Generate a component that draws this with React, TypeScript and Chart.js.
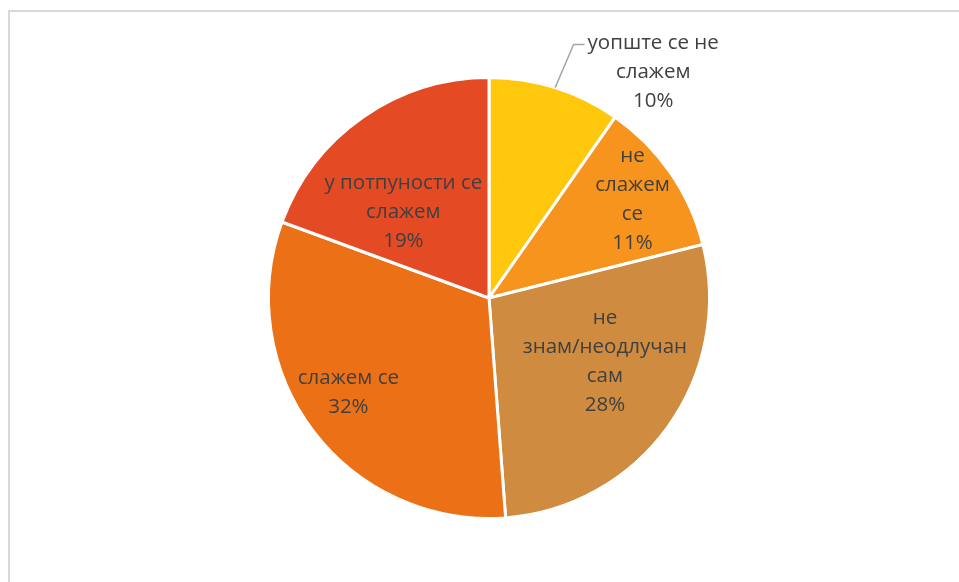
import React, { useEffect, useRef } from "react";
import { Chart, registerables } from "chart.js";

Chart.register(...registerables);

const categories: string[] = [
  "уопште се не\nслажем",
  "не\nслажем\nсе",
  "не\nзнам/неодлучан\nсам",
  "слажем се",
  "у потпуности се\nслажем",
];
const values: number[] = [9.7, 11.4, 27.7, 31.8, 19.4];
const colors: string[] = ["#FFC80D", "#F7941E", "#CF8B3F", "#EC7116", "#E44A24"];

// label placement: radius factor and angle tweak (deg) relative to slice middle
const labelRadius: number[] = [1.265, 0.79, 0.6, 0.77, 0.55];
const labelAngleShift: number[] = [18.6, 0, -7, 3, -10];

const FONT = "20.5px 'Open Sans', 'Noto Sans', sans-serif";
const LINE_H = 29;

const labelPlugin = {
  id: "sliceLabels",
  beforeDraw(chart: any) {
    const ctx = chart.ctx;
    ctx.save();
    ctx.fillStyle = "#fff";
    ctx.fillRect(0, 0, chart.width, chart.height);
    ctx.strokeStyle = "#D9D9D9";
    ctx.lineWidth = 2;
    ctx.beginPath();
    ctx.moveTo(1, chart.height);
    ctx.lineTo(1, 3);
    ctx.lineTo(chart.width, 3);
    ctx.stroke();
    ctx.restore();
  },
  afterDatasetsDraw(chart: any) {
    const ctx = chart.ctx;
    const meta = chart.getDatasetMeta(0);
    const total = values.reduce((a, b) => a + b, 0);
    ctx.save();
    ctx.font = FONT;
    ctx.fillStyle = "#404040";
    ctx.textAlign = "center";
    ctx.textBaseline = "middle";
    meta.data.forEach((arc: any, i: number) => {
      const mid = (arc.startAngle + arc.endAngle) / 2;
      const a = mid + (labelAngleShift[i] * Math.PI) / 180;
      const r = arc.outerRadius * labelRadius[i];
      const cx = arc.x + Math.cos(a) * r;
      const cy = arc.y + Math.sin(a) * r;
      const lines = categories[i].split("\n");
      lines.push(Math.round((values[i] / total) * 100) + "%");
      const top = cy - ((lines.length - 1) * LINE_H) / 2;
      lines.forEach((ln, k) => ctx.fillText(ln, cx, top + k * LINE_H));
      if (labelRadius[i] > 1) {
        const w = ctx.measureText(lines[0]).width;
        const ex = arc.x + Math.cos(mid) * arc.outerRadius;
        const ey = arc.y + Math.sin(mid) * arc.outerRadius;
        const lx = cx - w / 2 - 3;
        ctx.strokeStyle = "#A6A6A6";
        ctx.lineWidth = 1.5;
        ctx.beginPath();
        ctx.moveTo(ex, ey);
        ctx.lineTo(lx - 11, top + 1);
        ctx.lineTo(lx, top + 1);
        ctx.stroke();
      }
    });
    ctx.restore();
  },
};

export default function App() {
  const ref = useRef<HTMLCanvasElement | null>(null);
  useEffect(() => {
    if (!ref.current) return;
    const chart = new Chart(ref.current, {
      type: "pie",
      data: {
        labels: categories.map((c) => c.replace(/\n/g, " ")),
        datasets: [
          {
            data: values,
            backgroundColor: colors,
            borderColor: "#FFFFFF",
            borderWidth: 3,
          },
        ],
      },
      options: {
        animation: false,
        responsive: false,
        layout: { padding: { left: 259, right: 248, top: 68, bottom: 62 } },
        plugins: {
          legend: { display: false },
          tooltip: { enabled: false },
        },
      },
      plugins: [labelPlugin],
    });
    return () => chart.destroy();
  }, []);
  return (
    <canvas
      ref={ref}
      width={951}
      height={574}
      style={{ display: "block", position: "fixed", left: 8, top: 8, width: 951, height: 574 }}
    />
  );
}
